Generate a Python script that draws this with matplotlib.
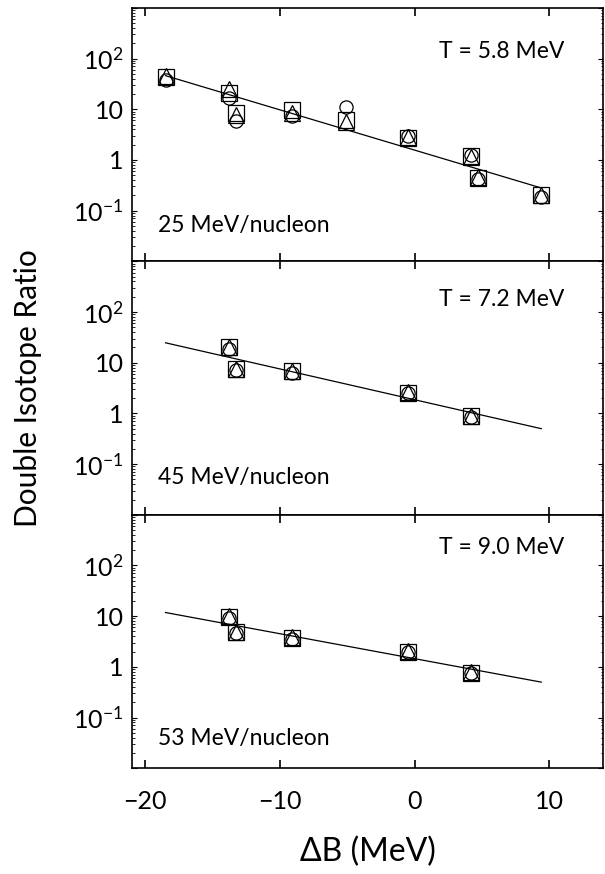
import matplotlib
matplotlib.use("Agg")
import matplotlib.pyplot as plt
from matplotlib.ticker import FixedLocator, FuncFormatter, LogLocator, NullFormatter

plt.rcParams['font.family'] = ['Lato', 'DejaVu Sans']
plt.rcParams['mathtext.fontset'] = 'custom'
plt.rcParams['mathtext.rm'] = 'Lato'
plt.rcParams['mathtext.it'] = 'Lato'

# ---- data ----
x_top = [-18.5, -13.8, -13.3, -9.1, -5.1, -0.5, 4.2, 4.7, 9.4]
top_sq = [44, 21, 8.5, 9.5, 6.0, 2.7, 1.2, 0.44, 0.2]
top_circ = [38, 17, 5.8, 7.5, 11.0, 3.0, 1.25, 0.43, 0.19]
top_tri = [45, 25, 7.7, 8.5, 5.5, 2.9, 1.15, 0.47, 0.2]

x_mid = [-13.8, -13.3, -9.1, -0.5, 4.2]
mid_sq = [20, 7.6, 6.8, 2.55, 0.88]
mid_circ = [19, 7.2, 6.4, 2.5, 0.85]
mid_tri = [20, 7.6, 6.8, 2.6, 0.9]

x_bot = [-13.8, -13.3, -9.1, -0.5, 4.2]
bot_sq = [9.7, 4.8, 3.7, 2.0, 0.76]
bot_circ = [9.3, 4.6, 3.5, 1.95, 0.74]
bot_tri = [10.3, 4.9, 3.9, 2.05, 0.78]

fit_x = [-18.5, 9.4]
fit_top = [46, 0.28]
fit_mid = [24.7, 0.5]
fit_bot = [11.8, 0.5]

temps = ["T = 5.8 MeV", "T = 7.2 MeV", "T = 9.0 MeV"]
energies = ["25 MeV/nucleon", "45 MeV/nucleon", "53 MeV/nucleon"]
x_ticks = [-20, -10, 0, 10]
y_ticks = [1e-2, 1e-1, 1, 10, 1e2, 1e3]
y_labels = {1e-1: r"$\mathregular{10^{-1}}$", 1: "1", 10: "10", 1e2: r"$\mathregular{10^{2}}$"}

panels = [
    (x_top, top_sq, top_circ, top_tri, fit_top),
    (x_mid, mid_sq, mid_circ, mid_tri, fit_mid),
    (x_bot, bot_sq, bot_circ, bot_tri, fit_bot),
]
t_pos = [0.803, 0.823, 0.845]
e_pos = [0.114, 0.122, 0.091]

fig = plt.figure(figsize=(6.05, 8.74), dpi=100)
gs = fig.add_gridspec(3, 1, left=0.218, right=0.997, top=0.991, bottom=0.121, hspace=0)
axes = [fig.add_subplot(gs[i]) for i in range(3)]

def yfmt(v, pos):
    for k, s in y_labels.items():
        if abs(v - k) / k < 1e-6:
            return s
    return ""

for i, ax in enumerate(axes):
    xs, sq, ci, tr, fit = panels[i]
    ax.plot(fit_x, fit, color='black', lw=0.9)
    kw = dict(ls='none', mfc='none', mec='black', mew=0.9)
    ax.plot(xs, sq, marker='s', ms=11, **kw)
    ax.plot(xs, ci, marker='o', ms=9.5, **kw)
    ax.plot(xs, tr, marker='^', ms=11, **kw)
    ax.set_yscale('log')
    ax.set_ylim(1e-2, 1e3)
    ax.set_xlim(-21, 14)
    ax.yaxis.set_major_locator(FixedLocator(y_ticks))
    ax.yaxis.set_major_formatter(FuncFormatter(yfmt))
    ax.yaxis.set_minor_locator(LogLocator(base=10, subs=[2, 3, 4, 5, 6, 7, 8, 9], numticks=20))
    ax.yaxis.set_minor_formatter(NullFormatter())
    ax.set_xticks(x_ticks)
    ax.tick_params(axis='x', which='major', direction='in', top=True, bottom=True,
                   length=6, width=1.2, labelsize=18, pad=16)
    ax.tick_params(axis='x', which='minor', bottom=False, top=False)
    ax.tick_params(axis='y', which='major', direction='in', left=True, right=True,
                   length=3.8, width=0.8, labelsize=18, pad=6)
    ax.tick_params(axis='y', which='minor', direction='in', left=True, right=True,
                   length=1.8, width=0.6)
    if i < 2:
        ax.tick_params(axis='x', labelbottom=False)
    for sp in ax.spines.values():
        sp.set_linewidth(1.2)
    ax.text(0.917, t_pos[i], temps[i], transform=ax.transAxes, ha='right', va='baseline', fontsize=16.5)
    ax.text(0.055, e_pos[i], energies[i], transform=ax.transAxes, ha='left', va='baseline', fontsize=16.5)

axes[2].set_xlabel("ΔB (MeV)", fontsize=23, labelpad=17)
fig.text(0.047, 0.556, "Double Isotope Ratio", rotation=90, ha='center', va='center', fontsize=21.5)

fig.savefig("out.png", dpi=100)
